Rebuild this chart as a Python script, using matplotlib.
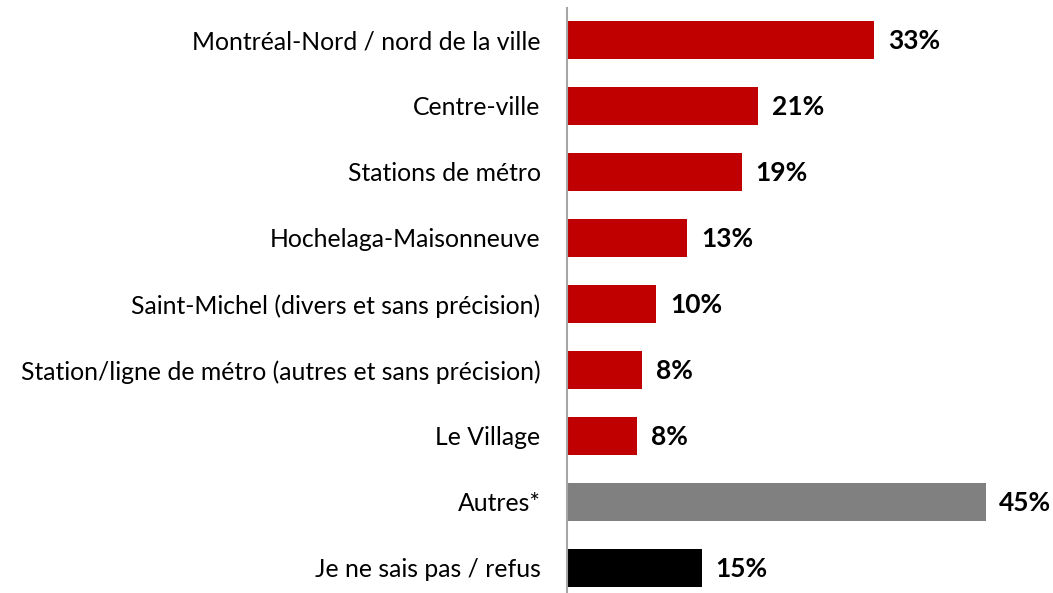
import matplotlib
matplotlib.use("Agg")
import matplotlib.pyplot as plt

categories = [
    "Montréal-Nord / nord de la ville",
    "Centre-ville",
    "Stations de métro",
    "Hochelaga-Maisonneuve",
    "Saint-Michel (divers et sans précision)",
    "Station/ligne de métro (autres et sans précision)",
    "Le Village",
    "Autres*",
    "Je ne sais pas / refus",
]
values = [33.0, 20.5, 18.8, 12.9, 9.6, 8.1, 7.5, 45.0, 14.5]
value_labels = ["33%", "21%", "19%", "13%", "10%", "8%", "8%", "45%", "15%"]
colors = ["#C00000"] * 7 + ["#808080", "#000000"]

W, H = 1053, 593
fig = plt.figure(figsize=(W / 100, H / 100), dpi=100)
x0 = 567 / W
scale = 9.3  # px per %
xmax = 52
ax = fig.add_axes([x0, 0, xmax * scale / W, 1 - 8 / H])

y = list(range(len(categories)))
ax.barh(y, values, height=0.58, color=colors)
ax.set_ylim(len(categories) - 1 + 0.38, -0.483)
ax.set_xlim(0, xmax)

for s in ["top", "right", "bottom"]:
    ax.spines[s].set_visible(False)
ax.spines["left"].set_color("#A6A6A6")
ax.spines["left"].set_linewidth(1.5)
ax.set_xticks([])
ax.set_yticks(y)
ax.set_yticklabels(categories, fontsize=17.8, family="Lato", color="#000000")
ax.tick_params(axis="y", length=0, pad=19)

for yi, v, lab in zip(y, values, value_labels):
    ax.annotate(lab, (v, yi), xytext=(10, -1), textcoords="offset points",
                ha="left", va="center", fontsize=19, fontweight="bold",
                family="Lato", color="#000000")

fig.savefig("out.png", dpi=100)
